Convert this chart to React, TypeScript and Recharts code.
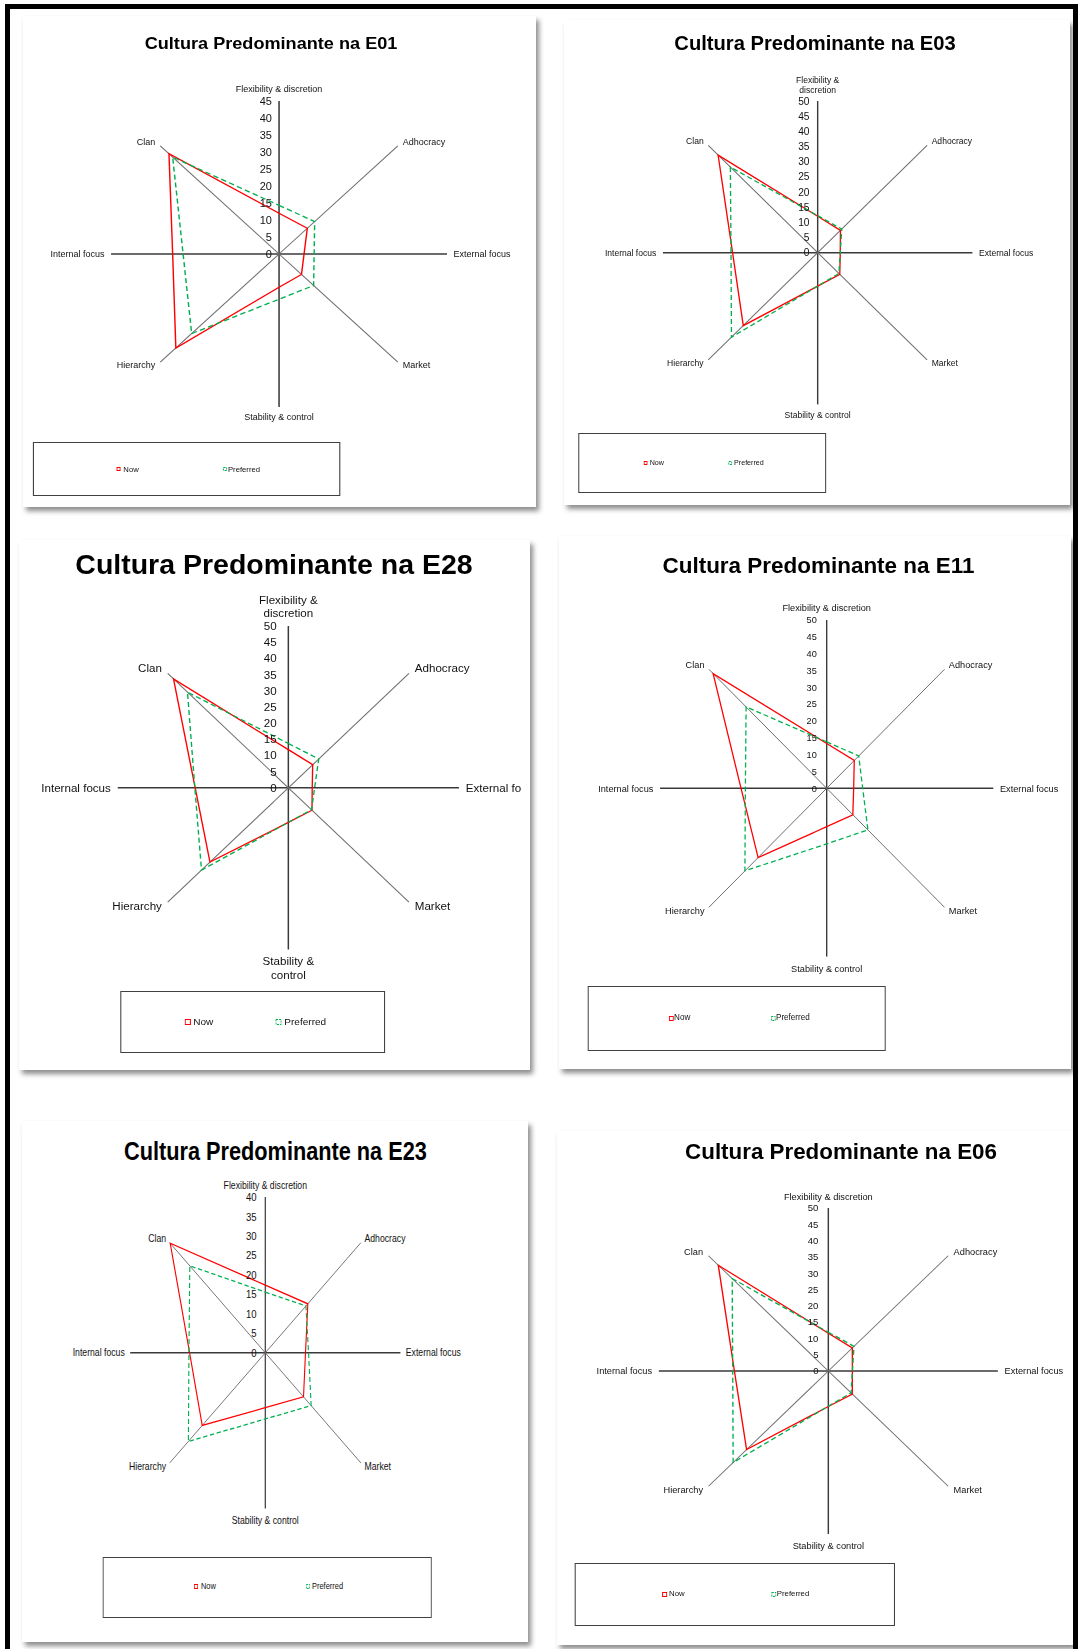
import React from "react";
import { PolarAngleAxis, PolarGrid, PolarRadiusAxis, Radar, RadarChart } from "recharts";

// category order runs clockwise from the top of each radar
const axes = [
  "Flexibility & discretion",
  "Adhocracy",
  "External focus",
  "Market",
  "Stability & control",
  "Hierarchy",
  "Internal focus",
  "Clan",
];

const seriesNames = ["Now", "Preferred"];

const e01Now = [12.0, 10.7, 6.7, 8.5, 9.8, 39.1, 28.5, 41.7];
const e01Preferred = [14.3, 13.5, 9.4, 13.1, 13.3, 33.1, 25.7, 40.3];

const e03Now = [12.0, 10.4, 7.3, 10.1, 11.0, 34.0, 27.5, 45.5];
const e03Preferred = [12.2, 11.0, 7.3, 9.7, 11.0, 39.4, 28.0, 39.9];

const e28Now = [11.8, 10.1, 7.0, 9.8, 10.7, 32.5, 27.3, 47.6];
const e28Preferred = [13.7, 12.6, 7.7, 9.6, 10.7, 36.0, 27.4, 41.8];

const e11Now = [13.3, 11.7, 8.1, 11.1, 11.4, 29.1, 25.7, 48.2];
const e11Preferred = [13.8, 13.6, 10.8, 17.5, 16.5, 34.7, 24.4, 34.2];

const e23Now = [17.4, 17.8, 11.9, 16.0, 14.1, 26.4, 22.4, 39.8];
const e23Preferred = [15.6, 17.0, 12.8, 19.2, 17.0, 32.2, 22.6, 31.6];

const e06Now = [11.6, 10.0, 7.1, 10.0, 10.9, 34.1, 27.7, 45.9];
const e06Preferred = [11.9, 10.7, 7.1, 9.5, 10.8, 39.7, 28.2, 40.1];

const ticks40 = [0, 5, 10, 15, 20, 25, 30, 35, 40];
const ticks45 = [0, 5, 10, 15, 20, 25, 30, 35, 40, 45];
const ticks50 = [0, 5, 10, 15, 20, 25, 30, 35, 40, 45, 50];

const NOW = "#FF0000";
const PREF = "#00B050";
const FONT = "'Liberation Sans', Arial, sans-serif";

interface LegendSpec {
  x: number; y: number; w: number; h: number;
  icons: number[]; texts: number[]; itemY: number; size: number;
}

interface PanelSpec {
  title: string;
  now: number[];
  preferred: number[];
  ticks: number[];
  left: number; top: number; width: number; height: number;
  sx: number;          // horizontal stretch of the whole panel
  cx: number; cy: number; r: number;
  clip?: number;
  titleX: number; titleY: number; titleSize: number;
  labelSize: number; numSize: number; numGap: number;
  gapTop: number; gapBottom: number; gapSide: number; gapDiag: number;
  wrapTop?: boolean; wrapBottom?: boolean; lineH?: number;
  legend: LegendSpec;
}

const panels: PanelSpec[] = [
  {
    title: "Cultura Predominante na E01", now: e01Now, preferred: e01Preferred, ticks: ticks45,
    left: 23, top: 16, width: 513, height: 491, sx: 1.098,
    cx: 233.2, cy: 238, r: 153,
    titleX: 225.9, titleY: 27.5, titleSize: 16.5,
    labelSize: 8.2, numSize: 10, numGap: 6.5,
    gapTop: 8.7, gapBottom: 7.6, gapSide: 6, gapDiag: 4.5,
    legend: { x: 8.5, y: 426.3, w: 280.2, h: 53.7, icons: [85.1, 181.7], texts: [91.4, 186.7], itemY: 453.3, size: 7 },
  },
  {
    title: "Cultura Predominante na E03", now: e03Now, preferred: e03Preferred, ticks: ticks50,
    left: 564, top: 20, width: 506, height: 485, sx: 1.02,
    cx: 248.7, cy: 232.7, r: 151.7,
    titleX: 246.1, titleY: 24, titleSize: 19.8,
    labelSize: 8.4, numSize: 10, numGap: 8,
    gapTop: 7.7, gapBottom: 7.3, gapSide: 6.5, gapDiag: 4.5,
    wrapTop: true, lineH: 10,
    legend: { x: 13.7, y: 413.3, w: 243, h: 59.4, icons: [78, 160.7], texts: [84, 166.7], itemY: 442.7, size: 7 },
  },
  {
    title: "Cultura Predominante na E28", now: e28Now, preferred: e28Preferred, ticks: ticks50,
    left: 19, top: 539.5, width: 511, height: 530, sx: 1.055,
    cx: 255.3, cy: 247.8, r: 161.7, clip: 475.8,
    titleX: 241.7, titleY: 25.5, titleSize: 27,
    labelSize: 11, numSize: 11, numGap: 11,
    gapTop: 8.6, gapBottom: 8, gapSide: 6.5, gapDiag: 5.5,
    wrapTop: true, wrapBottom: true, lineH: 13.5,
    legend: { x: 95.7, y: 451.3, w: 251.2, h: 61.9, icons: [156.6, 243.2], texts: [165.2, 251.5], itemY: 482.5, size: 9.5 },
  },
  {
    title: "Cultura Predominante na E11", now: e11Now, preferred: e11Preferred, ticks: ticks50,
    left: 559, top: 536, width: 512, height: 533, sx: 0.99,
    cx: 270.4, cy: 252.3, r: 168.3,
    titleX: 262.1, titleY: 29.5, titleSize: 22.7,
    labelSize: 9.3, numSize: 9.3, numGap: 10,
    gapTop: 9.5, gapBottom: 8.6, gapSide: 6.7, gapDiag: 4.4,
    legend: { x: 28.8, y: 449.5, w: 301.5, h: 65.5, icons: [110.5, 213.5], texts: [116.2, 219.2], itemY: 482.4, size: 8.2 },
  },
  {
    title: "Cultura Predominante na E23", now: e23Now, preferred: e23Preferred, ticks: ticks40,
    left: 22, top: 1120.5, width: 506, height: 521, sx: 0.868,
    cx: 280.3, cy: 231.8, r: 155.7,
    titleX: 292, titleY: 31, titleSize: 25,
    labelSize: 10, numSize: 11, numGap: 10,
    gapTop: 8.5, gapBottom: 8, gapSide: 6.2, gapDiag: 4.2,
    legend: { x: 92.7, y: 436.5, w: 379.6, h: 61.2, icons: [197.7, 327.1], texts: [206.2, 334.1], itemY: 466.2, size: 8.6 },
  },
  {
    title: "Cultura Predominante na E06", now: e06Now, preferred: e06Preferred, ticks: ticks50,
    left: 557, top: 1131, width: 516, height: 514, sx: 1.04,
    cx: 260.9, cy: 240, r: 163,
    titleX: 273.1, titleY: 21.5, titleSize: 21.5,
    labelSize: 8.9, numSize: 9.2, numGap: 9.5,
    gapTop: 7.5, gapBottom: 8.6, gapSide: 6.5, gapDiag: 5.2,
    legend: { x: 17.3, y: 432, w: 307.7, h: 63.3, icons: [101.3, 205.8], texts: [107.7, 211.3], itemY: 463, size: 7.5 },
  },
];

// category labels sit just outside the spoke ends, Excel style
const angleLabel = (p: PanelSpec) => (props: any) => {
  const name: string = props.payload.value;
  const fs = p.labelSize;
  const cap = fs * 0.716;
  const lh = p.lineH ?? fs * 1.2;
  const d = p.r * Math.SQRT1_2;
  let x = p.cx;
  let y = p.cy;
  let anchor: "start" | "middle" | "end" = "middle";
  let lines = [name];
  switch (name) {
    case "Flexibility & discretion":
      if (p.wrapTop) lines = name.replace("& ", "&\n").split("\n");
      y = p.cy - p.r - p.gapTop - (lines.length - 1) * lh;
      break;
    case "Stability & control":
      if (p.wrapBottom) lines = name.replace("& ", "&\n").split("\n");
      y = p.cy + p.r + p.gapBottom + cap;
      break;
    case "External focus":
      x = p.cx + p.r + p.gapSide; y = p.cy + fs * 0.36; anchor = "start";
      break;
    case "Internal focus":
      x = p.cx - p.r - p.gapSide; y = p.cy + fs * 0.36; anchor = "end";
      break;
    case "Adhocracy":
      x = p.cx + d + p.gapDiag; y = p.cy - d - 1; anchor = "start";
      break;
    case "Clan":
      x = p.cx - d - p.gapDiag; y = p.cy - d - 1; anchor = "end";
      break;
    case "Market":
      x = p.cx + d + p.gapDiag; y = p.cy + d + cap; anchor = "start";
      break;
    case "Hierarchy":
      x = p.cx - d - p.gapDiag; y = p.cy + d + cap; anchor = "end";
      break;
  }
  return (
    <text x={x} y={y} textAnchor={anchor} fontSize={fs} fontFamily={FONT} fill="#111">
      {lines.map((l, i) => (
        <tspan key={i} x={x} dy={i === 0 ? 0 : lh}>{l}</tspan>
      ))}
    </text>
  );
};

const radiusTick = (p: PanelSpec) => (props: any) => (
  <text
    x={props.x - p.numGap}
    y={props.y + p.numSize * 0.36}
    textAnchor="end"
    fontSize={p.numSize}
    fontFamily={FONT}
    fill="#111"
  >
    {props.payload.value}
  </text>
);

const LegendBox = ({ l }: { l: LegendSpec }) => {
  const s = Math.max(4, Math.round(l.size * 0.62));
  const colours = [NOW, PREF];
  return (
    <>
      <div
        style={{
          position: "absolute", left: l.x, top: l.y, width: l.w, height: l.h,
          border: "1.5px solid #404040", boxSizing: "border-box",
        }}
      />
      {seriesNames.map((name, i) => (
        <React.Fragment key={name}>
          <svg
            width={s}
            height={s}
            style={{ position: "absolute", left: l.icons[i], top: l.itemY - s / 2 }}
          >
            <rect
              x={0.5} y={0.5} width={s - 1} height={s - 1}
              fill="none" stroke={colours[i]} strokeWidth={1}
              strokeDasharray={i === 1 ? "2 1" : undefined}
            />
          </svg>
          <div
            style={{
              position: "absolute", left: l.texts[i], top: l.itemY - l.size * 0.4885,
              font: `${l.size}px/${l.size}px ${FONT}`, color: "#111", whiteSpace: "nowrap",
            }}
          >
            {name}
          </div>
        </React.Fragment>
      ))}
    </>
  );
};

const ChartPanel = ({ p }: { p: PanelSpec }) => {
  const data = axes.map((axis, i) => ({ axis, Now: p.now[i], Preferred: p.preferred[i] }));
  const cw = p.width / p.sx;
  const max = p.ticks[p.ticks.length - 1];

  return (
    <div
      style={{
        position: "absolute", left: p.left, top: p.top, width: p.width, height: p.height,
        background: "#fff", boxShadow: "3px 4px 5px rgba(0,0,0,0.45)",
      }}
    >
      <div
        style={{
          position: "absolute", left: 0, top: 0, width: cw, height: p.height,
          transform: `scaleX(${p.sx})`, transformOrigin: "0 0",
        }}
      >
        <div
          style={{
            position: "absolute", left: p.titleX - 300, width: 600,
            top: p.titleY - p.titleSize * 0.4885, textAlign: "center",
            font: `bold ${p.titleSize}px/${p.titleSize}px ${FONT}`, color: "#000", whiteSpace: "nowrap",
          }}
        >
          {p.title}
        </div>
        <div style={{ position: "absolute", left: 0, top: 0, width: p.clip ?? cw, height: p.height, overflow: "hidden" }}>
          <RadarChart
            width={cw}
            height={p.height}
            data={data}
            cx={p.cx}
            cy={p.cy}
            outerRadius={p.r}
            margin={{ top: 0, right: 0, bottom: 0, left: 0 }}
          >
            <PolarGrid polarAngles={[90, 0, -90, 180]} polarRadius={[]} stroke="#3a3a3a" strokeWidth={1.4} />
            <PolarGrid polarAngles={[45, -45, -135, 135]} polarRadius={[]} stroke="#6e6e6e" strokeWidth={1} />
            <PolarAngleAxis dataKey="axis" tick={angleLabel(p)} tickLine={false} axisLine={false} />
            <PolarRadiusAxis
              angle={90}
              domain={[0, max]}
              ticks={p.ticks}
              tickCount={p.ticks.length}
              tick={radiusTick(p)}
              axisLine={false}
            />
            <Radar
              name="Now" dataKey="Now" stroke={NOW} strokeWidth={1.3}
              fill="none" fillOpacity={0} dot={false} isAnimationActive={false}
            />
            <Radar
              name="Preferred" dataKey="Preferred" stroke={PREF} strokeWidth={1.3} strokeDasharray="5 3"
              fill="none" fillOpacity={0} dot={false} isAnimationActive={false}
            />
          </RadarChart>
        </div>
        <LegendBox l={p.legend} />
      </div>
    </div>
  );
};

export default function App() {
  return (
    <div
      style={{
        position: "absolute", left: 0, top: 0, width: 1078, height: 1649,
        background: "#fff", overflow: "hidden",
      }}
    >
      {/* page frame */}
      <div style={{ position: "absolute", left: 5, top: 4, width: 1073, height: 5, background: "#000" }} />
      <div style={{ position: "absolute", left: 5, top: 4, width: 5, height: 1645, background: "#000" }} />
      <div style={{ position: "absolute", left: 1073, top: 4, width: 5, height: 1645, background: "#000" }} />
      {panels.map((p) => (
        <ChartPanel key={p.title} p={p} />
      ))}
    </div>
  );
}
